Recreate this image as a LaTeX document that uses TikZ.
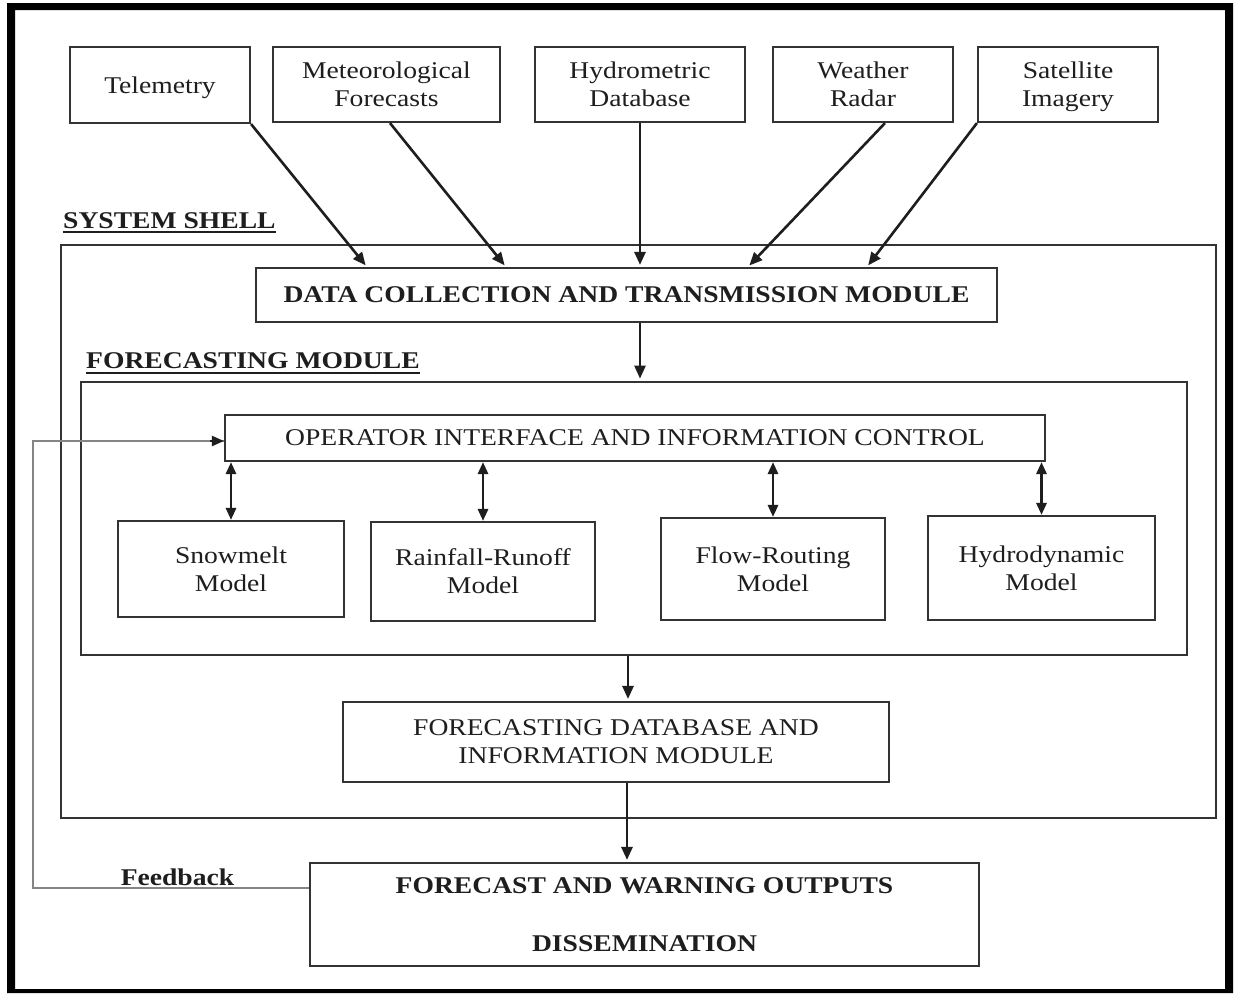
\documentclass[tikz,border=0pt]{standalone}
\usepackage{fontspec}
\setmainfont{Liberation Serif}[FakeStretch=1.15]
\usetikzlibrary{arrows.meta}
\definecolor{ink}{HTML}{1E1E1E}
\definecolor{edge}{HTML}{333333}
\definecolor{fbgray}{HTML}{858585}
\begin{document}
\begin{tikzpicture}[x=1pt,y=-1pt,
  txt/.style={font=\fontsize{24}{28}\selectfont, text=ink, align=center, inner sep=0pt},
  boxn/.style={txt, draw=edge, line width=2.1pt, rectangle},
  bigbox/.style={draw=edge, line width=2.8pt, rectangle, inner sep=0pt},
  arr/.style={draw=ink, line width=2.6pt, -{Triangle[length=13pt,width=11pt]}, shorten >=2pt},
  darr/.style={draw=ink, line width=2.8pt, {Triangle[length=12pt,width=10pt]}-{Triangle[length=12pt,width=10pt]}},
  fb/.style={draw=fbgray, line width=2pt},
  lbl/.style={font=\fontsize{24}{28}\selectfont\bfseries, text=ink, inner sep=0pt}
]
\useasboundingbox (0,0) rectangle (1236,994);
\fill[white] (0,0) rectangle (1236,994);
% outer black frame
\fill[black, even odd rule] (7,3) rectangle (1233,993) (15,10) rectangle (1225,989);

% source boxes
\node[boxn, minimum width=180pt, minimum height=76pt, text depth=0pt] (tele) at (160,85) {Telemetry};
\node[boxn, minimum width=227pt, minimum height=75pt, text depth=0pt] (meteo) at (386.5,84.5) {Meteorological\\Forecasts};
\node[boxn, minimum width=210pt, minimum height=75pt, text depth=0pt] (hydrom) at (640,84.5) {Hydrometric\\Database};
\node[boxn, minimum width=180pt, minimum height=75pt, text depth=0pt] (radar) at (863,84.5) {Weather\\Radar};
\node[boxn, minimum width=180pt, minimum height=75pt, text depth=0pt] (sat) at (1068,84.5) {Satellite\\Imagery};

% system shell
\node[lbl, anchor=base west] (shelllbl) at (63,228) {SYSTEM SHELL};
\draw[ink, line width=2.2pt] ([yshift=-4pt]shelllbl.base west) -- ([yshift=-4pt]shelllbl.base east);
\node[bigbox, minimum width=1155pt, minimum height=573pt] (shell) at (638.5,531.5) {};

\node[boxn, minimum width=741pt, minimum height=54pt, font=\fontsize{24}{28}\selectfont\bfseries] (dc) at (626.5,295) {DATA COLLECTION AND TRANSMISSION MODULE};

% forecasting module
\node[lbl, anchor=base west] (fmlbl) at (86,368) {FORECASTING MODULE};
\draw[ink, line width=2.2pt] ([yshift=-5pt]fmlbl.base west) -- ([yshift=-5pt]fmlbl.base east);
\node[bigbox, minimum width=1106pt, minimum height=273pt] (fm) at (634,518.5) {};

\node[boxn, minimum width=820pt, minimum height=46pt] (op) at (635,438) {OPERATOR INTERFACE AND INFORMATION CONTROL};

\node[boxn, minimum width=226pt, minimum height=96pt] (snow) at (231,569) {Snowmelt\\Model};
\node[boxn, minimum width=224pt, minimum height=99pt] (rain) at (483,571.5) {Rainfall-Runoff\\Model};
\node[boxn, minimum width=224pt, minimum height=102pt] (flow) at (773,569) {Flow-Routing\\Model};
\node[boxn, minimum width=227pt, minimum height=104pt] (hydro) at (1041.5,568) {Hydrodynamic\\Model};

\node[boxn, minimum width=546pt, minimum height=80pt] (db) at (616,742) {FORECASTING DATABASE AND\\INFORMATION MODULE};

\node[boxn, minimum width=669pt, minimum height=103pt, font=\fontsize{24}{28}\selectfont\bfseries] (out) at (644.5,914.5) {FORECAST AND WARNING OUTPUTS\\[30pt]DISSEMINATION};

% source arrows
\draw[arr] (tele.south east) -- ([xshift=112pt]dc.north west);
\draw[arr] ([xshift=3.5pt]meteo.south) -- ([xshift=251pt]dc.north west);
\draw[arr] (hydrom.south) -- (hydrom.south |- dc.north);
\draw[arr] ([xshift=22pt]radar.south) -- ([xshift=493pt]dc.north west);
\draw[arr] (sat.south west) -- ([xshift=612pt]dc.north west);

% vertical flow
\draw[arr] ([xshift=13.5pt]dc.south) -- ([xshift=13.5pt]dc.south |- fm.north);
\draw[arr] ([xshift=12pt]db.north |- fm.south) -- ([xshift=12pt]db.north);
\draw[arr] ([xshift=11pt]db.south) -- ([xshift=11pt]db.south |- out.north);

% double arrows
\draw[darr] (op.south -| snow.north) -- (snow.north);
\draw[darr] (op.south -| rain.north) -- (rain.north);
\draw[darr] (op.south -| flow.north) -- (flow.north);
\draw[darr] (op.south -| hydro.north) -- (hydro.north);

% feedback loop
\coordinate (fbc) at (33,441);
\draw[fb] ([yshift=-26pt]out.north west) -| (fbc) -- ([yshift=-3pt]op.west);
\draw[draw=ink, line width=2pt, -{Triangle[length=12pt,width=10pt]}] ([xshift=-14pt,yshift=-3pt]op.west) -- ([yshift=-3pt]op.west);
\node[lbl, anchor=base] (fblbl) at (177.5,885) {Feedback};
\end{tikzpicture}
\end{document}
